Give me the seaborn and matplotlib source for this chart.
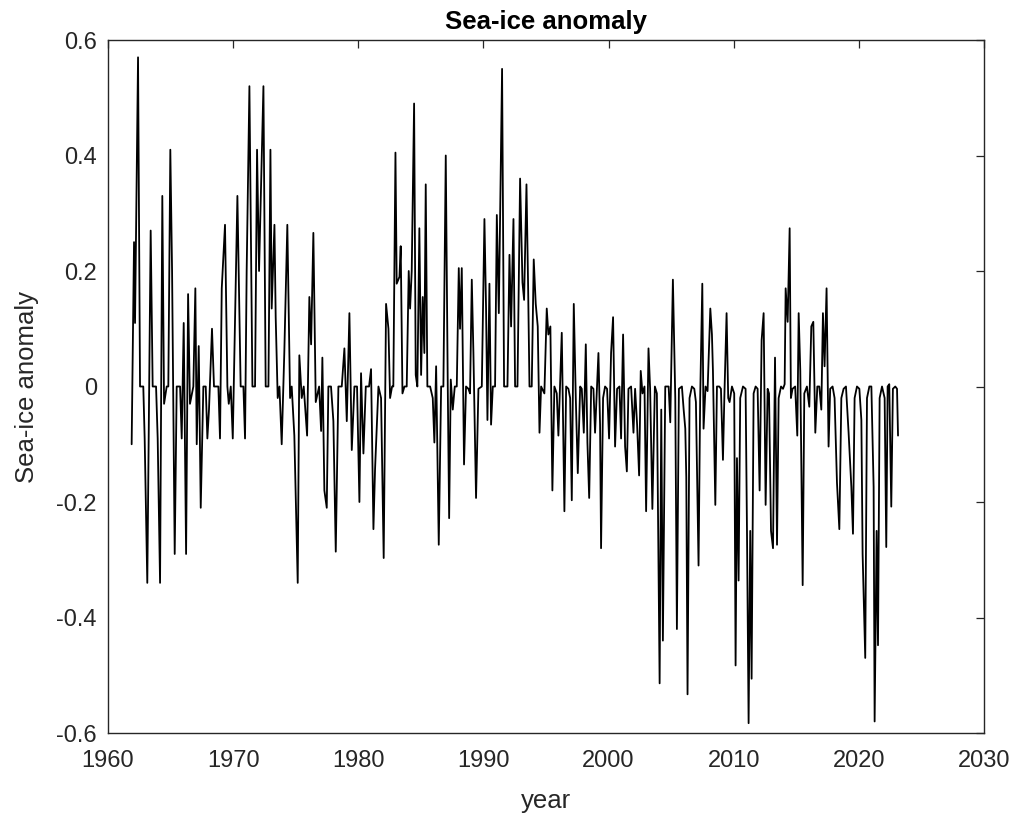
import numpy as np
import pandas as pd
import matplotlib
matplotlib.use("Agg")
import matplotlib.pyplot as plt
from matplotlib.ticker import FuncFormatter
import seaborn as sns

# turning points of the monthly anomaly series
# 1962 - 1971
year_a = [1961.89, 1962.08, 1962.16, 1962.40, 1962.56, 1962.82, 1962.93, 1963.14, 1963.28, 1963.41,
          1963.57, 1963.84, 1963.97, 1964.16, 1964.34, 1964.48, 1964.69, 1964.82, 1964.98, 1965.12,
          1965.33, 1965.49, 1965.76, 1965.89, 1966.05, 1966.24, 1966.40, 1966.55, 1966.82, 1966.98,
          1967.09, 1967.25, 1967.41, 1967.62, 1967.81, 1967.94, 1968.07, 1968.31, 1968.47, 1968.82,
          1968.95, 1969.09, 1969.35, 1969.54, 1969.65, 1969.81, 1969.97, 1970.34, 1970.60, 1970.82,
          1970.95, 1971.08, 1971.30]
anom_a = [-0.10, 0.25, 0.11, 0.57, 0, 0, -0.09, -0.34, -0.02, 0.27,
          0, 0, -0.09, -0.34, 0.33, -0.03, 0, 0, 0.41, 0.20,
          -0.29, 0, 0, -0.09, 0.11, -0.29, 0.16, -0.03, 0, 0.17,
          -0.10, 0.07, -0.21, 0, 0, -0.09, -0.04, 0.10, 0, 0,
          -0.09, 0.17, 0.28, 0, -0.03, 0, -0.09, 0.33, 0, 0,
          -0.09, 0.20, 0.52]

# 1971 - 1982
year_b = [1971.54, 1971.75, 1971.91, 1972.07, 1972.42, 1972.60, 1972.82, 1972.98, 1973.08, 1973.30,
          1973.40, 1973.56, 1973.70, 1973.88, 1974.09, 1974.33, 1974.55, 1974.68, 1974.89, 1975.16,
          1975.29, 1975.48, 1975.64, 1975.91, 1976.09, 1976.23, 1976.41, 1976.60, 1976.87, 1977.03,
          1977.13, 1977.29, 1977.48, 1977.61, 1977.82, 1978.01, 1978.20, 1978.41, 1978.68, 1978.89,
          1979.08, 1979.29, 1979.48, 1979.69, 1979.90, 1980.09, 1980.22, 1980.41, 1980.60, 1980.86,
          1981.02, 1981.21, 1981.34, 1981.61, 1981.82, 1982.03]
anom_b = [0, 0, 0.41, 0.20, 0.52, 0, 0, 0.41, 0.135, 0.28,
          0.12, -0.02, 0, -0.10, 0.06, 0.28, -0.02, 0, -0.085, -0.34,
          0.054, -0.02, 0, -0.085, 0.155, 0.073, 0.266, -0.027, 0, -0.077,
          0.05, -0.18, -0.21, 0, 0, -0.06, -0.286, 0, 0, 0.066,
          -0.06, 0.127, -0.11, 0, 0, -0.20, 0.023, -0.116, 0, 0,
          0.03, -0.247, -0.143, 0, -0.02, -0.297]

# 1982 - 1993
year_c = [1982.22, 1982.41, 1982.54, 1982.70, 1982.80, 1982.97, 1983.07, 1983.29, 1983.39, 1983.53,
          1983.69, 1983.87, 1984.03, 1984.14, 1984.27, 1984.46, 1984.59, 1984.72, 1984.88, 1985.02,
          1985.15, 1985.28, 1985.39, 1985.52, 1985.74, 1985.95, 1986.08, 1986.22, 1986.43, 1986.62,
          1986.80, 1986.99, 1987.15, 1987.26, 1987.39, 1987.55, 1987.71, 1987.87, 1988.03, 1988.13,
          1988.27, 1988.45, 1988.61, 1988.80, 1988.93, 1989.07, 1989.20, 1989.41, 1989.60, 1989.87,
          1990.08, 1990.21, 1990.32, 1990.48, 1990.61, 1990.75, 1990.93, 1991.07, 1991.23, 1991.49,
          1991.65, 1991.92, 1992.08, 1992.21, 1992.40, 1992.53, 1992.72, 1992.93]
anom_c = [0.143, 0.10, -0.02, 0, 0, 0.405, 0.178, 0.19, 0.243, -0.012,
          0, 0, 0.20, 0.135, 0.20, 0.49, 0.02, 0, 0.274, 0.02,
          0.155, 0.058, 0.35, 0, 0, -0.02, -0.097, 0.035, -0.274, 0,
          0, 0.40, 0, -0.228, 0.012, -0.04, 0, 0, 0.205, 0.10,
          0.205, -0.135, 0, -0.004, -0.012, 0.185, 0.058, -0.193, -0.004, 0,
          0.29, 0.135, -0.058, 0.178, -0.066, 0, 0, 0.297, 0.127, 0.55,
          0, 0, 0.228, 0.104, 0.29, 0, 0, 0.36]

# 1993 - 2003
year_d = [1993.12, 1993.25, 1993.44, 1993.57, 1993.68, 1993.86, 1994.02, 1994.18, 1994.34, 1994.48,
          1994.61, 1994.87, 1995.06, 1995.19, 1995.35, 1995.51, 1995.67, 1995.86, 1995.99, 1996.26,
          1996.47, 1996.61, 1996.79, 1996.93, 1997.06, 1997.22, 1997.38, 1997.54, 1997.73, 1997.86,
          1998.02, 1998.18, 1998.31, 1998.45, 1998.61, 1998.79, 1998.92, 1999.19, 1999.32, 1999.40,
          1999.56, 1999.72, 1999.88, 2000.04, 2000.20, 2000.36, 2000.52, 2000.68, 2000.87, 2001.00,
          2001.16, 2001.32, 2001.46, 2001.59, 2001.80, 2001.99, 2002.12, 2002.28, 2002.44, 2002.57,
          2002.71, 2002.87, 2003.00, 2003.19, 2003.32, 2003.50]
anom_d = [0.18, 0.15, 0.35, 0.174, 0, 0, 0.22, 0.143, 0.104, -0.08,
          0, -0.012, 0.135, 0.09, 0.104, -0.18, 0, -0.012, -0.085, 0.093,
          -0.216, 0, -0.004, -0.02, -0.197, 0.143, -0.02, -0.15, 0, -0.004,
          -0.08, 0.073, -0.097, -0.193, 0, -0.004, -0.08, 0.058, -0.066, -0.28,
          -0.02, 0, -0.004, -0.09, 0.058, 0.12, -0.104, -0.004, 0, -0.09,
          0.09, -0.104, -0.147, -0.004, 0, -0.08, -0.004, -0.066, -0.154, 0.027,
          -0.012, 0, -0.216, 0.066, -0.004, -0.212]

# 2003 - 2014
year_e = [2003.70, 2003.86, 2004.08, 2004.21, 2004.34, 2004.53, 2004.80, 2004.93, 2005.14, 2005.33,
          2005.46, 2005.62, 2005.86, 2006.00, 2006.13, 2006.21, 2006.31, 2006.47, 2006.66, 2006.85,
          2006.98, 2007.19, 2007.32, 2007.49, 2007.59, 2007.75, 2007.91, 2008.13, 2008.26, 2008.34,
          2008.53, 2008.66, 2008.85, 2008.98, 2009.14, 2009.25, 2009.43, 2009.56, 2009.67, 2009.86,
          2010.04, 2010.15, 2010.26, 2010.39, 2010.52, 2010.74, 2010.95, 2011.06, 2011.19, 2011.32,
          2011.43, 2011.59, 2011.75, 2011.91, 2012.07, 2012.23, 2012.39, 2012.55, 2012.71, 2012.82,
          2012.98, 2013.14, 2013.30, 2013.46, 2013.59, 2013.78, 2013.94, 2014.07, 2014.15, 2014.31,
          2014.47]
anom_e = [0, -0.012, -0.514, -0.04, -0.44, 0, 0, -0.062, 0.185, -0.02,
          -0.42, -0.004, 0, -0.04, -0.073, -0.157, -0.533, -0.02, 0, -0.004,
          -0.027, -0.31, -0.02, 0.178, -0.073, 0, -0.008, 0.135, 0.09, 0.027,
          -0.205, 0, 0, -0.004, -0.127, -0.02, 0.127, -0.02, -0.027, 0,
          -0.012, -0.483, -0.124, -0.336, -0.02, 0, -0.004, -0.25, -0.583, -0.25,
          -0.506, -0.012, 0, -0.004, -0.18, 0.08, 0.127, -0.205, -0.004, -0.012,
          -0.25, -0.28, 0.05, -0.274, -0.02, 0, -0.004, 0.004, 0.17, 0.112,
          0.274]

# 2014 - 2023
year_f = [2014.57, 2014.70, 2014.91, 2015.08, 2015.19, 2015.32, 2015.51, 2015.64, 2015.85, 2016.04,
          2016.20, 2016.36, 2016.52, 2016.68, 2016.84, 2017.00, 2017.13, 2017.26, 2017.42, 2017.58,
          2017.71, 2017.90, 2018.06, 2018.25, 2018.44, 2018.60, 2018.78, 2018.97, 2019.18, 2019.40,
          2019.53, 2019.66, 2019.85, 2020.04, 2020.20, 2020.30, 2020.51, 2020.65, 2020.84, 2021.00,
          2021.18, 2021.26, 2021.42, 2021.53, 2021.66, 2021.85, 2022.06, 2022.19, 2022.30, 2022.43,
          2022.59, 2022.72, 2022.91, 2023.05, 2023.13]
anom_f = [-0.02, -0.004, 0, -0.085, 0.127, 0.027, -0.344, -0.012, 0, -0.035,
          0.104, 0.112, -0.08, 0, 0, -0.04, 0.127, 0.035, 0.17, -0.104,
          -0.004, 0, -0.02, -0.166, -0.247, -0.02, -0.004, 0, -0.08, -0.174,
          -0.255, -0.02, 0, -0.004, -0.058, -0.29, -0.47, -0.02, 0, 0,
          -0.174, -0.58, -0.25, -0.448, -0.02, 0, -0.02, -0.278, 0, 0.004,
          -0.208, -0.004, 0, -0.004, -0.085]

x_ticks = [1960, 1970, 1980, 1990, 2000, 2010, 2020, 2030]
y_ticks = [-0.6, -0.4, -0.2, 0, 0.2, 0.4, 0.6]

df = pd.DataFrame({
    'year': year_a + year_b + year_c + year_d + year_e + year_f,
    'anomaly': anom_a + anom_b + anom_c + anom_d + anom_e + anom_f,
})

sns.set_style('white')
plt.rcParams['font.family'] = ['Liberation Sans', 'DejaVu Sans']
plt.rcParams['axes.unicode_minus'] = False

grey = '#262626'
fig = plt.figure(figsize=(10.21, 8.23), dpi=100)
ax = fig.add_axes([108 / 1021, 1 - 733 / 823, 876 / 1021, 693 / 823])

sns.lineplot(data=df, x='year', y='anomaly', color='black', linewidth=1.3,
             estimator=None, sort=False, ax=ax)

ax.set_xlim(1960, 2030)
ax.set_ylim(-0.6, 0.6)
ax.set_xticks(x_ticks)
ax.set_yticks(y_ticks)
ax.yaxis.set_major_formatter(FuncFormatter(lambda v, p: '%g' % round(v, 2)))

for s in ax.spines.values():
    s.set_color(grey)
    s.set_linewidth(1.0)
    s.set_visible(True)
ax.tick_params(axis='both', direction='in', length=6, width=0.9, color=grey,
               labelcolor=grey, labelsize=17, top=True, right=True)
ax.tick_params(axis='x', pad=12)
ax.tick_params(axis='y', pad=8)

ax.set_title('Sea-ice anomaly', fontsize=18.5, fontweight='bold', pad=8, color='black')
ax.set_xlabel('year', fontsize=18.5, color=grey)
ax.set_ylabel('Sea-ice anomaly', fontsize=18.5, color=grey)
ax.xaxis.set_label_coords(0.5, (733 - 801) / 693)
ax.xaxis.label.set_va('center')
ax.yaxis.set_label_coords((27 - 108) / 876, 0.5)
ax.yaxis.label.set_va('center')

fig.savefig('out.png', dpi=100)
